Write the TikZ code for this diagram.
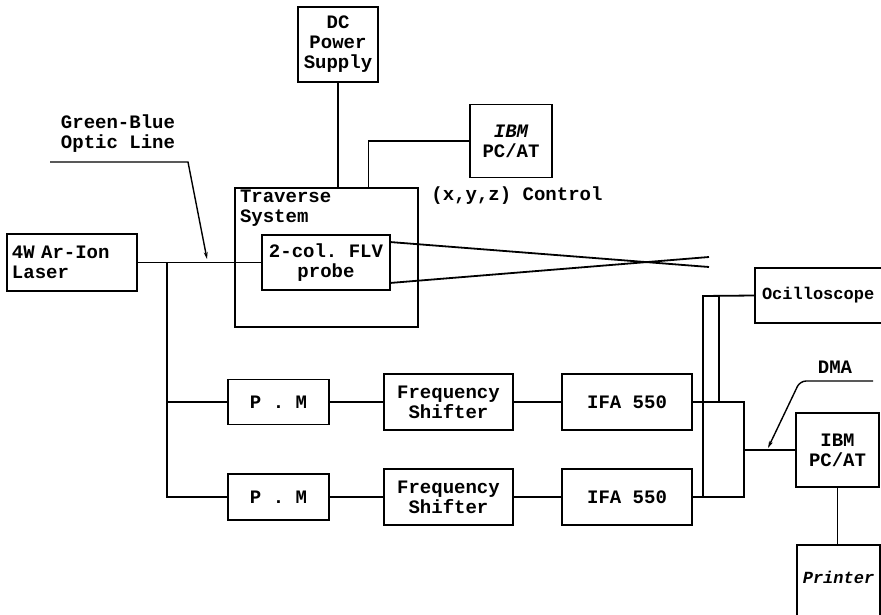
\documentclass[tikz,border=0pt]{standalone}
\usepackage{fontspec}
\setmonofont{Liberation Mono}
\usetikzlibrary{arrows.meta, positioning, calc}

\begin{document}
\begin{tikzpicture}[
      x=1pt, y=-1pt,
      line width=1.8pt,
      lbl/.style={font=\fontsize{19}{20}\selectfont\ttfamily\bfseries, inner sep=0pt, align=center},
      blk/.style={lbl, rectangle, draw, line width=1.8pt},
      leader/.style={-{Stealth[length=7pt, width=4pt]}, line width=1.4pt}
    ]
      \useasboundingbox (0,0) rectangle (881,615);

      \node[blk, minimum width=80pt, minimum height=75pt] (dc) at (338,44.5) {DC\\Power\\Supply};
      \node[blk, minimum width=183pt, minimum height=139pt] (trav) at (326.5,257.5) {};
      \node[lbl, anchor=north west, align=left] (travtxt) at ([shift={(5pt,-2pt)}]trav.north west) {Traverse\\System};
      \node[blk, minimum width=128pt, minimum height=55pt] (probe) at (326,262.5) {2-col. FLV\\probe};
      \node[blk, minimum width=130pt, minimum height=57pt, text width=120pt, align=left] (laser) at (72,262.5) {4W Ar-Ion\\Laser};
      \node[blk, minimum width=82pt, minimum height=73pt] (pcxyz) at (511,141) {\itshape IBM\\PC/AT};
      \node[lbl] (ctrl) at (517,196) {(x,y,z) Control};
      \node[lbl] (gbtxt) at (118,134) {Green-Blue\\Optic Line};

      \node[blk, minimum width=140pt, minimum height=55pt, text width=126pt, align=left,
            font=\fontsize{17}{20}\selectfont\ttfamily\bfseries] (osc) at (825,295.5) {Ocilloscope};
      \node[blk, minimum width=101pt, minimum height=45pt] (pm1) at (278.5,402) {P . M};
      \node[blk, minimum width=101pt, minimum height=46pt] (pm2) at (278.5,497) {P . M};
      \node[blk, minimum width=129pt, minimum height=56pt] (fs1) at (448.5,402) {Frequency\\Shifter};
      \node[blk, minimum width=129pt, minimum height=56pt] (fs2) at (448.5,497) {Frequency\\Shifter};
      \node[blk, minimum width=130pt, minimum height=56pt] (ifa1) at (627,402) {IFA 550};
      \node[blk, minimum width=130pt, minimum height=56pt] (ifa2) at (627,497) {IFA 550};
      \node[blk, minimum width=83pt, minimum height=74pt] (pcdma) at (837.5,450) {IBM\\PC/AT};
      \node[blk, minimum width=83pt, minimum height=96pt, anchor=north,
            label={[lbl, anchor=center, yshift=-33pt, font=\fontsize{17}{20}\selectfont\ttfamily\bfseries\itshape]north:Printer}] (prn) at (838.5,544) {};
      \node[lbl] (dmatxt) at (835,367) {DMA};

      \coordinate (split) at (167,262.5);
      \coordinate (pctap) at ($(trav.north west)!0.727!(trav.north east)$);
      \coordinate (fibA) at (709,267);
      \coordinate (fibB) at (709,257);
      \coordinate (join) at (744,450);
      \coordinate (tapA) at (703,296);
      \coordinate (tapB) at (719,296);
      \coordinate (gbA) at (50,162);
      \coordinate (gbB) at (188,162);
      \coordinate (gbtip) at (207,259);
      \coordinate (dmaA) at (873,381);
      \coordinate (dmaB) at (800,381);
      \coordinate (dmatip) at (768,448);

      \draw (dc.south) -- (dc.south |- trav.north);
      \draw (pcxyz.west) -| (pctap);
      \draw (laser.east) -- (probe.west);
      \draw (split) |- (pm2.west);
      \draw (split |- pm1.west) -- (pm1.west);
      \draw ([yshift=-8pt]probe.north east) -- (fibA);
      \draw ([yshift=8pt]probe.south east) -- (fibB);

      \draw (pm1) -- (fs1);
      \draw (fs1) -- (ifa1);
      \draw (pm2) -- (fs2);
      \draw (fs2) -- (ifa2);
      \draw (ifa1.east) -| (join) |- (ifa2.east);
      \draw (join) -- (pcdma.west);
      \draw (osc.west) -- (tapA) -- (tapA |- ifa2.east);
      \draw (tapB) -- (tapB |- ifa1.east);
      \draw (pcdma.south) -- (pcdma.south |- prn.north);

      \draw[leader] (gbA) -- (gbB) -- (gbtip);
      \draw[leader, rounded corners=6pt] (dmaA) -- (dmaB) -- (dmatip);
    \end{tikzpicture}
\end{document}
